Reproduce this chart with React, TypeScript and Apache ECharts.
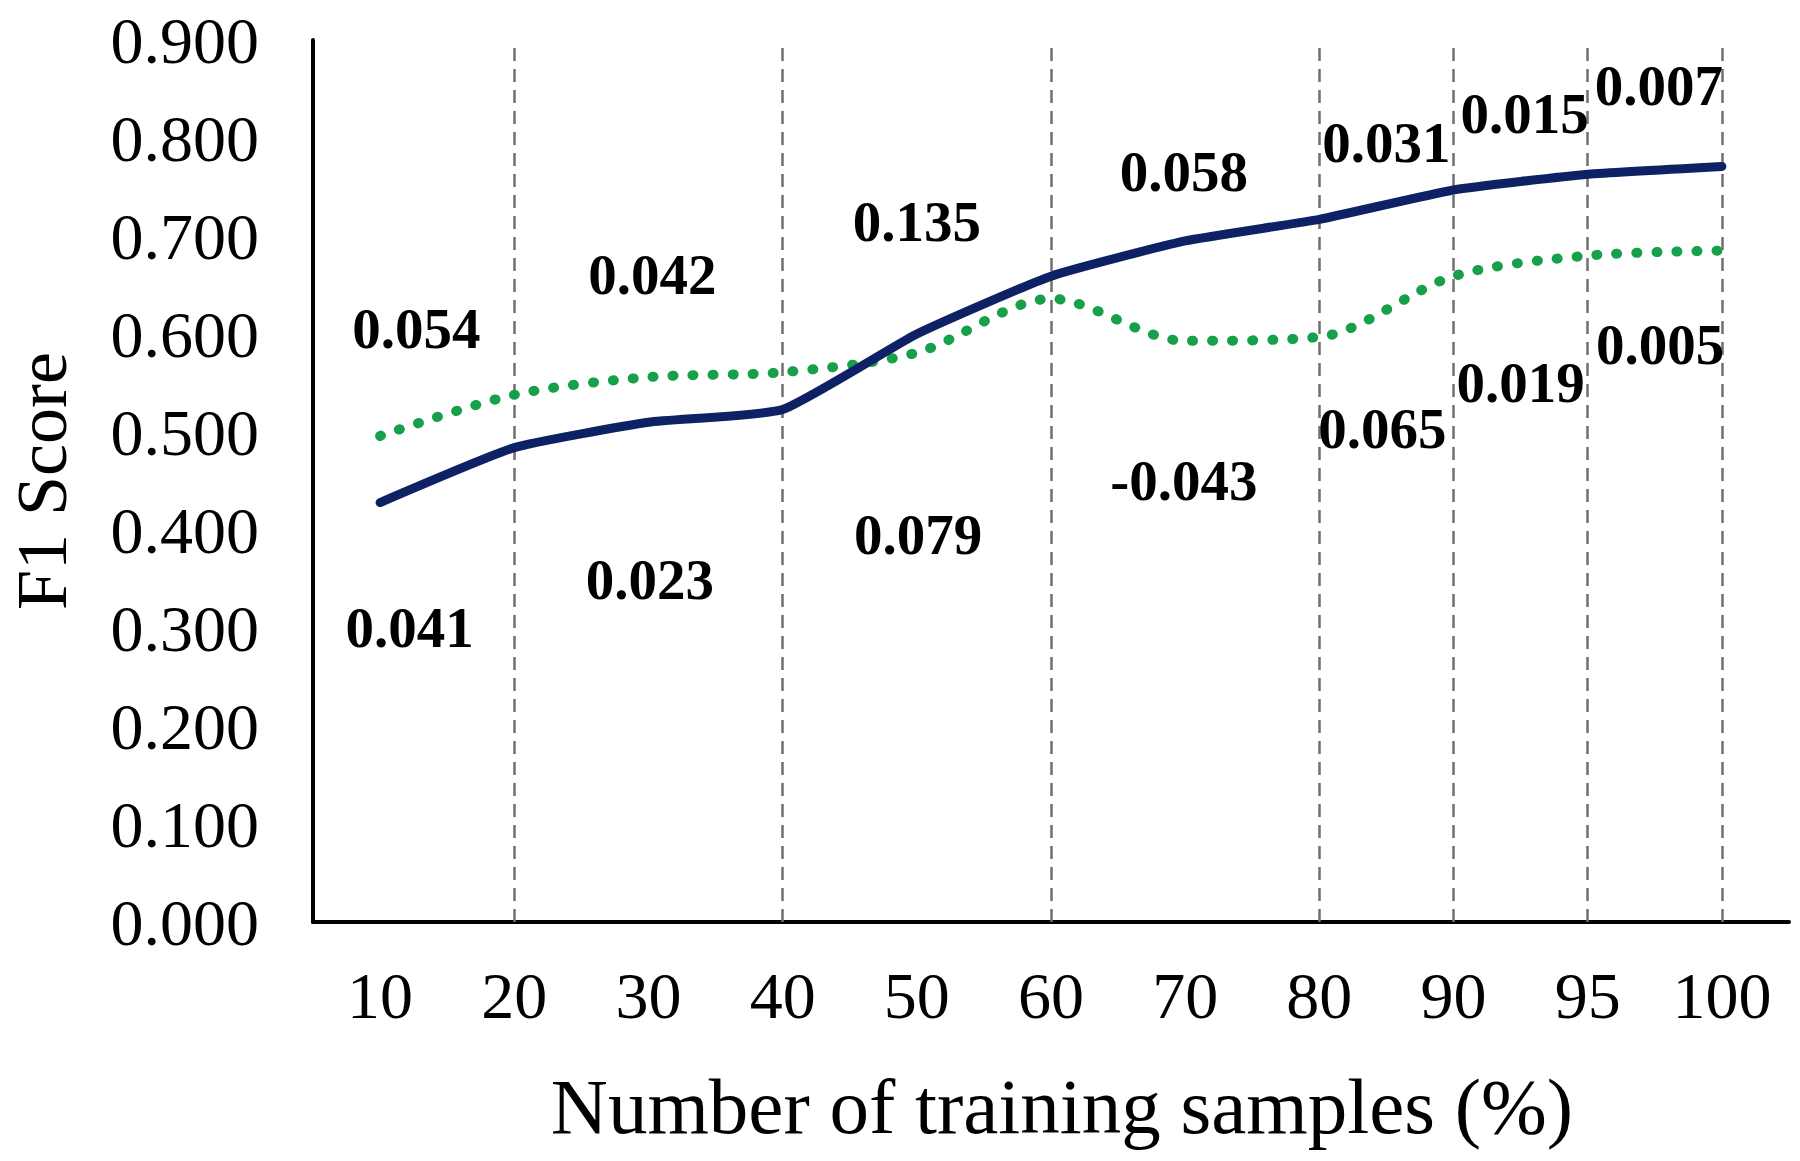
import React, { useEffect, useRef } from "react";
import * as echarts from "echarts";

const categories = ["10", "20", "30", "40", "50", "60", "70", "80", "90", "95", "100"];
const solidValues = [0.428, 0.484, 0.51, 0.523, 0.6, 0.659, 0.695, 0.717, 0.747, 0.763, 0.771];
const dottedValues = [0.496, 0.538, 0.556, 0.561, 0.581, 0.636, 0.593, 0.597, 0.659, 0.68, 0.685];
const separatorCategories = ["20", "40", "60", "80", "90", "95", "100"];

const upperLabels = ["0.054", "0.042", "0.135", "0.058", "0.031", "0.015", "0.007"];
const upperX = [0.27, 2.03, 4.0, 5.99, 7.5, 8.53, 9.53];
const upperY = [0.606, 0.661, 0.715, 0.766, 0.795, 0.825, 0.854];
const lowerLabels = ["0.041", "0.023", "0.079", "-0.043", "0.065", "0.019", "0.005"];
const lowerX = [0.22, 2.01, 4.01, 5.99, 7.47, 8.5, 9.54];
const lowerY = [0.301, 0.349, 0.395, 0.451, 0.504, 0.551, 0.589];

const yAxisTitle = "F1 Score";
const xAxisTitle = "Number of training samples (%)";

const FONT = "'Liberation Serif', 'Times New Roman', serif";

export default function App() {
  const ref = useRef<HTMLDivElement>(null);

  useEffect(() => {
    document.body.style.margin = "0";
    const chart = echarts.init(ref.current!, null, { renderer: "svg" });

    const annotationData = [
      ...upperLabels.map((t, i) => ({ name: t, value: [upperX[i], upperY[i]] })),
      ...lowerLabels.map((t, i) => ({ name: t, value: [lowerX[i], lowerY[i]] })),
    ];

    chart.setOption({
      animation: false,
      backgroundColor: "#ffffff",
      grid: {
        left: 313,
        right: 11,
        top: 40,
        bottom: 239,
        containLabel: false,
        outerBoundsMode: "none",
      },
      xAxis: [
        {
          type: "category",
          data: categories,
          boundaryGap: true,
          axisLine: { show: true, onZero: false, lineStyle: { color: "#000000", width: 4 } },
          axisTick: { show: false },
          axisLabel: { color: "#000000", fontSize: 66, fontFamily: FONT, margin: 40 },
          splitLine: { show: false },
          name: xAxisTitle,
          nameLocation: "middle",
          nameGap: 145,
          nameTextStyle: {
            color: "#000000",
            fontSize: 79,
            fontFamily: FONT,
            padding: [0, 0, 0, 22],
          },
        },
        {
          type: "value",
          min: -0.5,
          max: 10.5,
          show: false,
        },
      ],
      yAxis: {
        type: "value",
        min: 0,
        max: 0.9,
        interval: 0.1,
        axisLine: { show: true, onZero: false, lineStyle: { color: "#000000", width: 4 } },
        axisTick: { show: false },
        splitLine: { show: false },
        axisLabel: {
          color: "#000000",
          fontSize: 66,
          fontFamily: FONT,
          margin: 54,
          formatter: (v: number) => v.toFixed(3),
        },
        name: yAxisTitle,
        nameLocation: "middle",
        nameGap: 235,
        nameRotate: 90,
        nameTextStyle: { color: "#000000", fontSize: 72, fontFamily: FONT },
      },
      series: [
        {
          type: "line",
          data: dottedValues,
          smooth: 0.3,
          symbol: "none",
          lineStyle: { color: "#17a04a", width: 10, type: [1, 19], cap: "round" },
          z: 3,
        },
        {
          type: "line",
          data: solidValues,
          smooth: 0.15,
          symbol: "none",
          lineStyle: { color: "#0f2165", width: 9, cap: "round" },
          z: 4,
          markLine: {
            silent: true,
            symbol: ["none", "none"],
            label: { show: false },
            lineStyle: { color: "#707070", width: 2.5, type: [13, 8] },
            data: separatorCategories.map((c) => ({ xAxis: c })),
            z: 1,
          },
        },
        {
          type: "scatter",
          xAxisIndex: 1,
          data: annotationData,
          symbolSize: 1,
          itemStyle: { color: "rgba(0,0,0,0)", opacity: 1 },
          label: {
            show: true,
            position: "inside",
            formatter: (p: any) => p.name,
            color: "#000000",
            fontSize: 57,
            fontWeight: "bold",
            fontFamily: FONT,
          },
          z: 5,
        },
      ],
    });

    return () => chart.dispose();
  }, []);

  return (
    <div
      ref={ref}
      style={{ position: "fixed", left: 0, top: 0, width: 1800, height: 1161, background: "#fff" }}
    />
  );
}
